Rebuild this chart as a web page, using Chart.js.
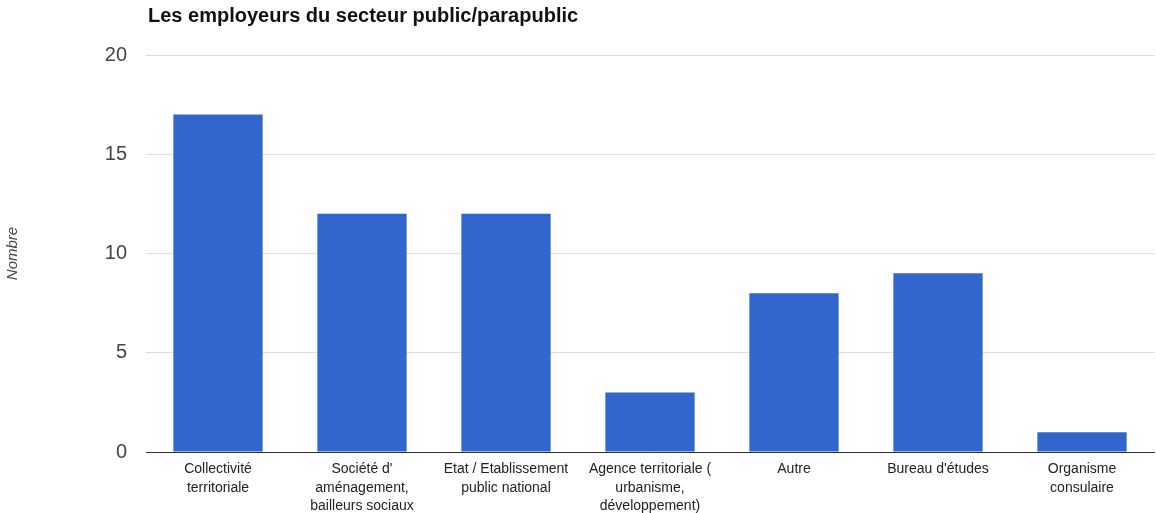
<!DOCTYPE html>
<html>
<head>
<meta charset="utf-8">
<script src="https://cdn.jsdelivr.net/npm/chart.js@4"></script>
<style>
  html, body { margin: 0; padding: 0; background: #fff; }
  #wrap { width: 1156px; height: 513px; }
</style>
</head>
<body>
<div id="wrap"><canvas id="myChart"></canvas></div>
<script>
var chartTitle = 'Les employeurs du secteur public/parapublic';
var axisTitle = 'Nombre';
var categories = [
    ['Collectivité', 'territoriale'],
    ['Société d\'', 'aménagement,', 'bailleurs sociaux'],
    ['Etat / Etablissement', 'public national'],
    ['Agence territoriale (', 'urbanisme,', 'développement)'],
    ['Autre'],
    ['Bureau d\'études'],
    ['Organisme', 'consulaire']
];
var values = [17, 12, 12, 3, 8, 9, 1];
var yTicks = [0, 5, 10, 15, 20];

// title drawn at top left, above the plot
var titlePlugin = {
    id: 'titleLeft',
    afterDraw: function (chart) {
        var ctx = chart.ctx;
        ctx.save();
        ctx.font = 'bold 20px Arial, "Liberation Sans", sans-serif';
        ctx.fillStyle = '#111';
        ctx.textBaseline = 'middle';
        ctx.fillText(chartTitle, 148, 16);
        ctx.restore();
    }
};

const ctx = document.getElementById('myChart').getContext('2d');
var currentChart = new Chart(ctx, {
    type: 'bar',
    data: {
        labels: categories,
        datasets: [{
            label: axisTitle,
            data: values,
            backgroundColor: '#3366CC',
            borderWidth: 0,
            categoryPercentage: 1,
            barPercentage: 0.62
        }]
    },
    options: {
        responsive: true,
        maintainAspectRatio: false,
        animation: false,
        layout: { padding: { top: 55, right: 2, left: 0, bottom: 0 } },
        plugins: {
            legend: { display: false },
            tooltip: { enabled: false }
        },
        scales: {
            x: {
                grid: { display: false, drawTicks: false },
                border: { display: true, color: '#333', width: 1 },
                ticks: {
                    color: '#222',
                    padding: 8,
                    maxRotation: 0,
                    autoSkip: false,
                    font: { family: 'Arial, "Liberation Sans", sans-serif', size: 14, lineHeight: 1.32 }
                },
                afterFit: function (scale) { scale.height = 61; }
            },
            y: {
                min: 0,
                max: 20,
                afterBuildTicks: function (scale) {
                    scale.ticks = yTicks.map(function (v) { return { value: v }; });
                },
                grid: { color: '#ddd', drawTicks: false },
                border: { display: false },
                ticks: {
                    color: '#444',
                    padding: 19,
                    font: { family: 'Arial, "Liberation Sans", sans-serif', size: 20 }
                },
                title: {
                    display: true,
                    text: axisTitle,
                    color: '#444',
                    padding: { top: 4, bottom: 0 },
                    font: { family: 'Arial, "Liberation Sans", sans-serif', size: 15, style: 'italic' }
                },
                afterFit: function (scale) { scale.width = 146; }
            }
        }
    },
    plugins: [titlePlugin]
});
</script>
</body>
</html>
